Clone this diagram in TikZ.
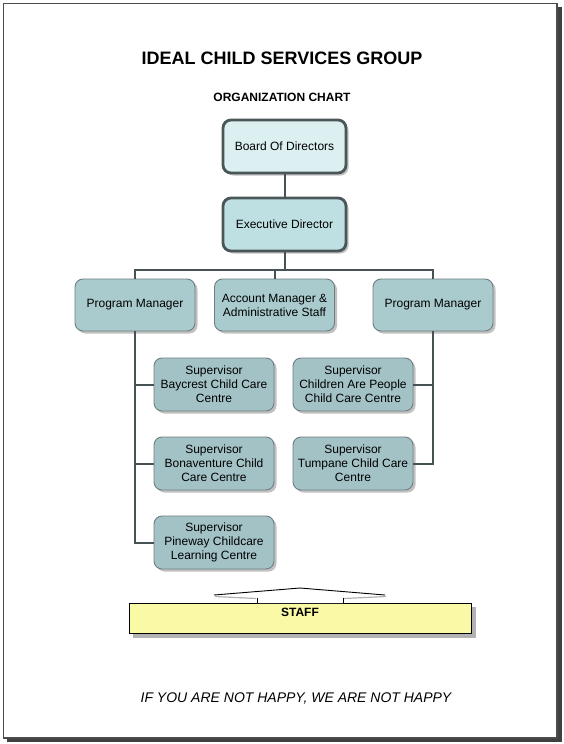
\documentclass[tikz,border=0pt]{standalone}
\usepackage{fontspec}
\setmainfont{Liberation Sans}
\usetikzlibrary{shadows}
\definecolor{boardfill}{HTML}{DCEFF1}
\definecolor{execfill}{HTML}{BEE0E3}
\definecolor{mgrfill}{HTML}{AACBCE}
\definecolor{supfill}{HTML}{A3C2C6}
\definecolor{boxline}{HTML}{6E7E80}
\definecolor{thickline}{HTML}{4A5759}
\definecolor{connline}{HTML}{465254}
\definecolor{staffyellow}{HTML}{FAFAA6}
\begin{document}
\begin{tikzpicture}[x=1pt,y=-1pt,
  box/.style={rectangle, rounded corners=8pt, draw=boxline, line width=0.9pt,
    fill=mgrfill, minimum width=120pt, minimum height=52pt, inner sep=2pt,
    align=center, font=\fontsize{12}{14}\selectfont,
    drop shadow={shadow xshift=2.5pt, shadow yshift=-2.5pt, fill=black!40, opacity=0.6}},
  topbox/.style={box, draw=thickline, line width=2.8pt, minimum width=123pt, minimum height=53pt},
  supbox/.style={box, fill=supfill, minimum height=53pt},
  conn/.style={draw=connline, line width=2pt}
]
\useasboundingbox (0,0) rectangle (564,744);
% frame
\fill[black!75] (7,7) rectangle (562,742);
\draw[fill=white, draw=black!70, line width=1.5pt] (3.5,3.5) rectangle (557,738);

% titles
\node[font=\bfseries\fontsize{18}{21}\selectfont] (title) at (282,58) {IDEAL CHILD SERVICES GROUP};
\node[font=\bfseries\fontsize{12}{14}\selectfont] (sub) at (282,97) {ORGANIZATION CHART};

% boxes
\node[topbox, fill=boardfill] (board) at (284.5,146.5) {Board Of Directors};
\node[topbox, fill=execfill] (exec) at (284.5,224.5) {Executive Director};
\node[box] (pmL) at (135,305) {Program Manager};
\node[box] (acct) at (274.5,305) {Account Manager \&\\Administrative Staff};
\node[box] (pmR) at (433,305) {Program Manager};
\node[supbox] (supL1) at (214,384.5) {Supervisor\\Baycrest Child Care\\Centre};
\node[supbox] (supL2) at (214,463.5) {Supervisor\\Bonaventure Child\\Care Centre};
\node[supbox] (supL3) at (214,542.5) {Supervisor\\Pineway Childcare\\Learning Centre};
\node[supbox] (supR1) at (353,384.5) {Supervisor\\Children Are People\\Child Care Centre};
\node[supbox] (supR2) at (353,463.5) {Supervisor\\Tumpane Child Care\\Centre};

% connectors
\coordinate (bus) at (284.5,270);
\draw[conn] (board.south) -- (exec.north);
\draw[conn] (exec.south) -- (bus);
\draw[conn] (pmL.north) |- (bus) -| (pmR.north);
\draw[conn] (acct.north) -- (acct.north |- bus);
\draw[conn] (pmL.south) |- (supL3.west);
\draw[conn] (supL1.west) -- (supL1.west -| pmL.south);
\draw[conn] (supL2.west) -- (supL2.west -| pmL.south);
\draw[conn] (pmR.south) |- (supR2.east);
\draw[conn] (supR1.east) -- (supR1.east -| pmR.south);

% staff
\fill[black!30] (133,607) rectangle (476,638);
\node[rectangle, draw=black, line width=0.9pt, fill=staffyellow, minimum width=342pt, minimum height=30pt, inner sep=0pt] (staff) at (300,618) {};
\fill[white] (257,603) -- (257,597) -- (214,595) -- (300,588) -- (385,595) -- (343,597) -- (343,603) -- cycle;
\draw[black!30, line width=1.2pt] (215,596.5) -- (256,598.5);
\draw[black!30, line width=1.2pt] (344,598.5) -- (386,596.5);
\draw[black, line width=0.9pt] (214,595) -- (300,588) -- (385,595);
\draw[black, line width=0.9pt] (257,597.5) -- (257,603);
\draw[black, line width=0.9pt] (343,597.5) -- (343,603);
\node[font=\bfseries\fontsize{12}{14}\selectfont] (stafftext) at (300,612) {STAFF};

% slogan
\node[font=\itshape\fontsize{14}{16}\selectfont] (slogan) at (296,698) {IF YOU ARE NOT HAPPY, WE ARE NOT HAPPY};
\end{tikzpicture}
\end{document}
